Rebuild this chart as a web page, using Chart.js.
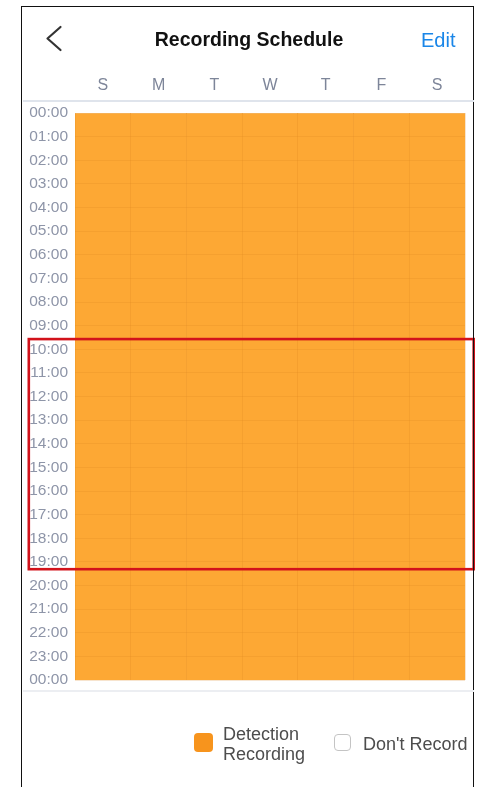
<!DOCTYPE html>
<html>
<head>
<meta charset="utf-8">
<script src="https://cdn.jsdelivr.net/npm/chart.js@4.4.1/dist/chart.umd.min.js"></script>
<style>
    html, body { margin: 0; padding: 0; background: #fff; overflow: hidden; }
    body { width: 483px; height: 787px; position: relative; font-family: "Liberation Sans", Arial, sans-serif; }
    #wrap { position: absolute; left: 0; top: 0; width: 483px; height: 787px; }
    .abs { position: absolute; white-space: nowrap; }
    #frame { position: absolute; left: 21px; top: 6px; width: 451px; height: 800px;
             border: 1.5px solid #111; border-bottom: none; pointer-events: none; }
    .sep { position: absolute; left: 23px; width: 451px; height: 1.5px; }
</style>
</head>
<body>
<div id="wrap"><canvas id="scheduleChart"></canvas></div>

<div id="frame"></div>
<svg class="abs" style="left:0;top:0" width="483" height="70">
    <polyline points="60.5,27 47.5,38.5 60.5,50" fill="none" stroke="#333" stroke-width="2.2" stroke-linecap="round" stroke-linejoin="round"/>
</svg>
<div class="abs" style="left:0;width:498px;top:30px;text-align:center;font-size:19.5px;line-height:19.5px;font-weight:bold;color:#111;">Recording Schedule</div>
<div class="abs" style="left:421px;top:30px;font-size:20px;line-height:20px;color:#1a86e8;">Edit</div>
<div class="sep" style="top:100px;background:#dfe4ec;"></div>
<div class="sep" style="top:690px;background:#eceef2;"></div>

<!-- 범례 -->
<div class="abs" style="left:194px;top:733px;width:19px;height:19px;border-radius:4px;background:#f7941d;"></div>
<div class="abs" style="left:223px;top:724.5px;font-size:18px;line-height:18px;color:#4d4d4d;">Detection</div>
<div class="abs" style="left:223px;top:744.5px;font-size:18px;line-height:18px;color:#4d4d4d;">Recording</div>
<div class="abs" style="left:334px;top:734px;width:15px;height:15px;border-radius:4px;border:1.5px solid #c4c4c4;"></div>
<div class="abs" style="left:363px;top:734.5px;font-size:18px;line-height:18px;color:#4d4d4d;">Don't Record</div>

<script>
// 요일 / 시간 라벨
const days = ['S', 'M', 'T', 'W', 'T', 'F', 'S'];
const hourLabels = [
    '00:00', '01:00', '02:00', '03:00', '04:00', '05:00', '06:00', '07:00',
    '08:00', '09:00', '10:00', '11:00', '12:00', '13:00', '14:00', '15:00',
    '16:00', '17:00', '18:00', '19:00', '20:00', '21:00', '22:00', '23:00', '00:00'
];

// 요일별 24시간 스케줄 (D = Detection Recording, N = Don't Record)
const schedule = [
    'DDDDDDDDDDDDDDDDDDDDDDDD',
    'DDDDDDDDDDDDDDDDDDDDDDDD',
    'DDDDDDDDDDDDDDDDDDDDDDDD',
    'DDDDDDDDDDDDDDDDDDDDDDDD',
    'DDDDDDDDDDDDDDDDDDDDDDDD',
    'DDDDDDDDDDDDDDDDDDDDDDDD',
    'DDDDDDDDDDDDDDDDDDDDDDDD'
];

// 빨간 강조 박스 (시간 범위)
const highlightHours = [9.57, 19.31];

const detectionColor = 'rgb(253, 168, 52)';
const cellLineColor = 'rgba(220, 130, 30, 0.22)';

// 연속된 녹화 구간을 [시작, 끝] 으로 묶기
function buildRuns(dayString) {
    const runs = [];
    let start = null;
    for (let h = 0; h <= dayString.length; h++) {
        const on = dayString[h] === 'D';
        if (on && start === null) start = h;
        if (!on && start !== null) {
            runs.push([start, h]);
            start = null;
        }
    }
    return runs;
}

const runsByDay = schedule.map(buildRuns);
const maxRuns = Math.max(...runsByDay.map(r => r.length));
const datasets = [];
for (let r = 0; r < maxRuns; r++) {
    datasets.push({
        label: 'Detection Recording',
        data: runsByDay.map(runs => runs[r] || null),
        backgroundColor: detectionColor,
        borderWidth: 0,
        borderSkipped: false,
        barPercentage: 1,
        categoryPercentage: 1,
        grouped: false
    });
}

// 강조 박스 플러그인
const highlightBox = {
    id: 'highlightBox',
    afterDraw(chart) {
        const y = chart.scales.y;
        const top = y.getPixelForValue(highlightHours[0]);
        const bottom = y.getPixelForValue(highlightHours[1]);
        const ctx = chart.ctx;
        ctx.save();
        ctx.strokeStyle = '#d2121b';
        ctx.lineWidth = 2.6;
        ctx.strokeRect(28.8, top, 473.7 - 28.8, bottom - top);
        ctx.restore();
    }
};

const ctx = document.getElementById('scheduleChart').getContext('2d');
new Chart(ctx, {
    type: 'bar',
    data: { labels: days, datasets: datasets },
    options: {
        responsive: true,
        maintainAspectRatio: false,
        animation: false,
        layout: { padding: { left: 0, right: 18, top: 0, bottom: 107 } },
        plugins: {
            legend: { display: false },
            tooltip: { enabled: false }
        },
        scales: {
            x: {
                position: 'top',
                offset: true,
                grid: { color: cellLineColor, lineWidth: 1, drawTicks: false, offset: true, z: 1 },
                border: { display: false },
                ticks: {
                    color: '#7d8599',
                    padding: 17.5,
                    font: { family: 'Liberation Sans', size: 16 }
                },
                afterFit(scale) { scale.height = 113; }
            },
            y: {
                min: 0,
                max: 24,
                reverse: true,
                grid: { color: cellLineColor, lineWidth: 1, drawTicks: false, z: 1 },
                border: { display: false },
                ticks: {
                    stepSize: 1,
                    autoSkip: false,
                    padding: 7,
                    color: '#8e95a8',
                    font: { family: 'Liberation Sans', size: 15.5 },
                    callback: value => hourLabels[value]
                },
                afterFit(scale) { scale.width = 75; }
            }
        }
    },
    plugins: [highlightBox]
});
</script>
</body>
</html>
